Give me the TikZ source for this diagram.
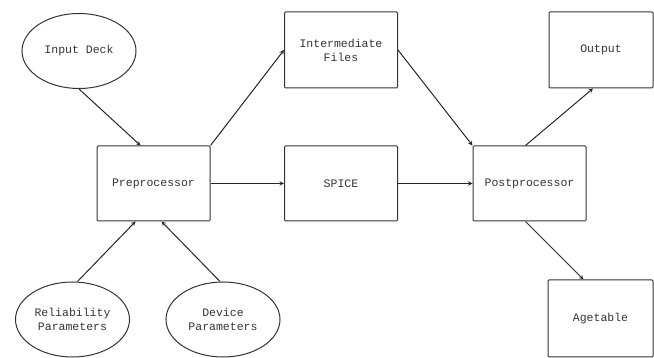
\documentclass[tikz,border=0pt]{standalone}
\usepackage{fontspec}
\setmonofont{Liberation Mono}
\usetikzlibrary{shapes.geometric}
\begin{document}
\begin{tikzpicture}[>=stealth,x=1pt,y=-1pt,
		every node/.style={font=\ttfamily\fontsize{11.5}{14}\selectfont,text=black!80,inner sep=0pt,align=center},
		blk/.style={draw=black!80,line width=1pt,rounded corners=1pt,minimum width=113pt,minimum height=75pt},
		src/.style={ellipse,draw=black!80,line width=1pt,minimum width=114pt,minimum height=75pt},
		flow/.style={->,draw=black!85,line width=1pt}]
	\useasboundingbox (0,0) rectangle (654,358);
	% entrees
	\node[src] (deck) at (79,51) {Input Deck};
	\node[src] (rel) at (72.5,319.5) {Reliability\\Parameters};
	\node[src] (dev) at (223,319.5) {Device\\Parameters};
	% blocs
	\node[blk] (pre) at (153.5,183.5) {Preprocessor};
	\node[blk,minimum height=76pt] (inter) at (341,50) {Intermediate\\Files};
	\node[blk] (spice) at (341,183.5) {SPICE};
	\node[blk] (post) at (529.5,183.5) {Postprocessor};
	\node[blk,minimum width=104pt,minimum height=76pt] (out) at (601,50) {Output};
	\node[blk,minimum width=105pt,minimum height=77pt] (age) at (600.5,318.5) {Agetable};
	% liaisons
	\draw[flow] (deck.south) -- ([xshift=-13pt]pre.north);
	\draw[flow] ([xshift=5pt]rel.north) -- ([xshift=-18pt]pre.south);
	\draw[flow] ([xshift=-3pt]dev.north) -- ([xshift=8pt]pre.south);
	\draw[flow] (pre.north east) -- (inter.west);
	\draw[flow] (pre.east) -- (spice.west);
	\draw[flow] (spice.east) -- (post.west);
	\draw[flow] (inter.east) -- (post.north west);
	\draw[flow] ([xshift=-4pt]post.north) -- ([xshift=-8pt]out.south);
	\draw[flow] ([xshift=-4pt]post.south) -- ([xshift=-17pt]age.north);
\end{tikzpicture}
\end{document}
